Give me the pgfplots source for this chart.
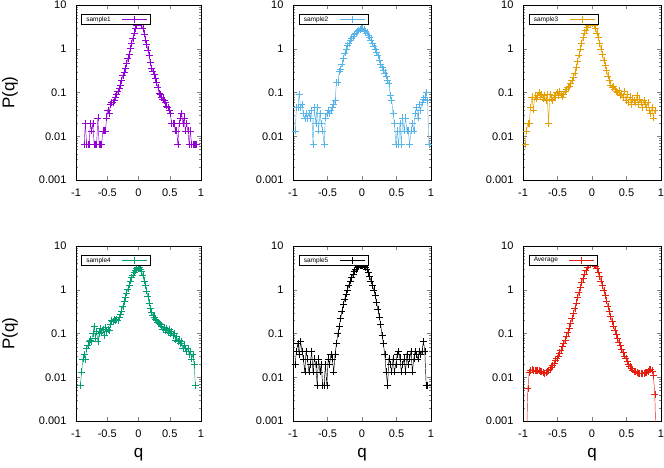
\documentclass[border=0pt]{standalone}
\usepackage{fontspec}
\setmainfont{Liberation Sans}
\usepackage{pgfplots}
\pgfplotsset{compat=1.18}
\definecolor{c1}{HTML}{9400D3}
\definecolor{c2}{HTML}{56B4E9}
\definecolor{c3}{HTML}{E69F00}
\definecolor{c4}{HTML}{009E73}
\definecolor{c5}{HTML}{000000}
\definecolor{c6}{HTML}{E51E10}
\pgfplotsset{
  legend image code/.code={\draw[mark repeat=2,mark phase=2,#1] plot coordinates {(0pt,0pt) (12.5pt,0pt) (25pt,0pt)};},
  every axis/.append style={
    scale only axis,
    xmin=-1, xmax=1, ymin=0.001, ymax=10, height=175pt,
    xtick={-1,-0.5,0,0.5,1}, xticklabels={-1,-0.5,0,0.5,1},
    ytick={0.001,0.01,0.1,1,10}, yticklabels={0.001,0.01,0.1,1,10},
    minor ytick={0.002,0.003,0.004,0.005,0.006,0.007,0.008,0.009,0.02,0.03,0.04,0.05,0.06,0.07,0.08,0.09,0.2,0.3,0.4,0.5,0.6,0.7,0.8,0.9,2,3,4,5,6,7,8,9},
    tick align=inside,
    major tick length=4pt, minor tick length=2pt,
    axis line style={line width=0.8pt},
    ticklabel style={font=\fontsize{11}{11}\selectfont},
    xticklabel style={yshift=-5pt},
    yticklabel style={xshift=-6pt},
    legend style={at={(axis cs:-0.92,6.2)}, anchor=north west, draw=black, line width=0.5pt,
      font=\fontsize{6.5}{7}\selectfont, inner xsep=3pt, inner ysep=0pt, column sep=9pt},
    legend cell align=left, legend plot pos=right,
    ylabel style={at={(axis description cs:-0.528,0.5)}, anchor=center, font=\fontsize{17}{17}\selectfont},
    xlabel style={at={(axis description cs:0.5,-0.193)}, anchor=center, font=\fontsize{17}{17}\selectfont},
  },
  ser/.style={color=#1, draw=#1, line width=0.45pt, mark=+, mark size=3.5pt, mark options={draw=#1, line width=0.45pt}},
}
\begin{document}
\begin{tikzpicture}
\useasboundingbox (0,0) rectangle (664pt,467pt);
% ---------- sample1
\begin{semilogyaxis}[anchor=north west, at={(76pt,462pt)}, width=125pt, ylabel={P(q)}]
\addplot[ser=c1] table {
-0.87 0.0066
-0.85 0.0198
-0.83 0.0066
-0.81 0.0066
-0.79 0.0066
-0.77 0.0198
-0.75 0.0132
-0.73 0.0198
-0.71 0.0066
-0.69 0.0066
-0.67 0.0066
-0.65 0.0264
-0.63 0.0066
-0.61 0.0066
-0.59 0.0066
-0.57 0.0132
-0.55 0.0132
-0.53 0.0132
-0.51 0.0264
-0.49 0.0396
-0.47 0.033
-0.45 0.0528
-0.43 0.0594
-0.41 0.0594
-0.39 0.066
-0.37 0.079
-0.35 0.092
-0.33 0.105
-0.31 0.125
-0.29 0.15
-0.27 0.19
-0.25 0.25
-0.23 0.29
-0.21 0.36
-0.19 0.46
-0.17 0.60
-0.15 0.75
-0.13 1.02
-0.11 1.35
-0.09 1.75
-0.07 2.3
-0.05 2.9
-0.03 3.5
-0.01 4.1
0.01 4.3
0.03 4.0
0.05 3.6
0.07 2.9
0.09 2.2
0.11 1.6
0.13 1.25
0.15 0.95
0.17 0.70
0.19 0.48
0.21 0.36
0.23 0.31
0.25 0.26
0.27 0.21
0.29 0.17
0.31 0.13
0.33 0.097
0.35 0.09
0.37 0.079
0.39 0.072
0.41 0.066
0.43 0.059
0.45 0.0495
0.47 0.046
0.49 0.0396
0.51 0.033
0.53 0.0198
0.55 0.0198
0.57 0.0198
0.59 0.0132
0.61 0.0132
0.63 0.0066
0.65 0.0198
0.67 0.0264
0.69 0.033
0.71 0.0198
0.73 0.0264
0.75 0.0132
0.77 0.0198
0.79 0.0132
0.81 0.0066
0.83 0.0132
0.85 0.0066
0.87 0.0066
0.89 0.0066
0.91 0.0066
0.93 0.0066
};
\addlegendentry{sample1}
\end{semilogyaxis}
% ---------- sample2
\begin{semilogyaxis}[anchor=north west, at={(293pt,462pt)}, width=138pt]
\addplot[ser=c2] table {
-0.97 0.0132
-0.95 0.046
-0.93 0.046
-0.91 0.092
-0.89 0.046
-0.87 0.053
-0.85 0.033
-0.83 0.026
-0.81 0.033
-0.79 0.026
-0.77 0.033
-0.75 0.026
-0.73 0.0396
-0.71 0.0066
-0.69 0.046
-0.67 0.0198
-0.65 0.046
-0.63 0.0132
-0.61 0.033
-0.59 0.0198
-0.57 0.0132
-0.55 0.0066
-0.53 0.0264
-0.51 0.033
-0.49 0.0396
-0.47 0.033
-0.45 0.0396
-0.43 0.046
-0.41 0.053
-0.39 0.066
-0.37 0.17
-0.35 0.17
-0.33 0.30
-0.31 0.34
-0.29 0.45
-0.27 0.60
-0.25 0.80
-0.23 0.98
-0.21 1.2
-0.19 1.35
-0.17 1.55
-0.15 1.75
-0.13 1.95
-0.11 2.1
-0.09 2.3
-0.07 2.5
-0.05 2.6
-0.03 2.75
-0.01 2.9
0.01 2.85
0.03 2.7
0.05 2.5
0.07 2.3
0.09 2.05
0.11 1.8
0.13 1.6
0.15 1.35
0.17 1.15
0.19 1.0
0.21 0.85
0.23 0.70
0.25 0.56
0.27 0.45
0.29 0.38
0.31 0.33
0.33 0.28
0.35 0.24
0.37 0.19
0.39 0.16
0.41 0.086
0.43 0.066
0.45 0.033
0.47 0.0198
0.49 0.0066
0.51 0.0132
0.53 0.0066
0.55 0.0198
0.57 0.0066
0.59 0.0264
0.61 0.0132
0.63 0.0264
0.65 0.0132
0.67 0.0132
0.69 0.0066
0.71 0.0132
0.73 0.0198
0.75 0.0132
0.77 0.033
0.79 0.046
0.81 0.0264
0.83 0.053
0.85 0.0396
0.87 0.059
0.89 0.072
0.91 0.079
0.93 0.099
0.95 0.066
0.97 0.0066
};
\addlegendentry{sample2}
\end{semilogyaxis}
% ---------- sample3
\begin{semilogyaxis}[anchor=north west, at={(523pt,462pt)}, width=138pt]
\addplot[ser=c3] table {
-0.97 0.0066
-0.95 0.0132
-0.93 0.0198
-0.91 0.0198
-0.89 0.046
-0.87 0.079
-0.85 0.04
-0.83 0.079
-0.81 0.072
-0.79 0.086
-0.77 0.099
-0.75 0.079
-0.73 0.092
-0.71 0.072
-0.69 0.086
-0.67 0.066
-0.65 0.092
-0.63 0.0198
-0.61 0.092
-0.59 0.072
-0.57 0.066
-0.55 0.086
-0.53 0.079
-0.51 0.099
-0.49 0.086
-0.47 0.105
-0.45 0.092
-0.43 0.079
-0.41 0.092
-0.39 0.105
-0.37 0.12
-0.35 0.13
-0.33 0.14
-0.31 0.16
-0.29 0.19
-0.27 0.22
-0.25 0.28
-0.23 0.38
-0.21 0.52
-0.19 0.72
-0.17 1.0
-0.15 1.35
-0.13 1.8
-0.11 2.3
-0.09 2.7
-0.07 3.1
-0.05 3.5
-0.03 3.8
-0.01 3.9
0.01 3.8
0.03 3.5
0.05 2.9
0.07 2.3
0.09 1.8
0.11 1.35
0.13 1.0
0.15 0.75
0.17 0.55
0.19 0.42
0.21 0.32
0.23 0.24
0.25 0.19
0.27 0.15
0.29 0.13
0.31 0.14
0.33 0.12
0.35 0.105
0.37 0.099
0.39 0.11
0.41 0.086
0.43 0.092
0.45 0.079
0.47 0.105
0.49 0.066
0.51 0.092
0.53 0.059
0.55 0.079
0.57 0.053
0.59 0.072
0.61 0.066
0.63 0.059
0.65 0.086
0.67 0.053
0.69 0.072
0.71 0.059
0.73 0.046
0.75 0.066
0.77 0.053
0.79 0.046
0.81 0.059
0.83 0.0396
0.85 0.033
0.87 0.046
0.89 0.0264
0.91 0.0396
};
\addlegendentry{sample3}
\end{semilogyaxis}
% ---------- sample4
\begin{semilogyaxis}[anchor=north west, at={(76pt,221pt)}, width=125pt, ylabel={P(q)}, xlabel={q}]
\addplot[ser=c4] table {
-0.93 0.0066
-0.91 0.0132
-0.89 0.0264
-0.87 0.0330
-0.85 0.026
-0.83 0.046
-0.81 0.053
-0.79 0.066
-0.77 0.072
-0.75 0.066
-0.73 0.099
-0.71 0.145
-0.69 0.079
-0.67 0.112
-0.65 0.066
-0.63 0.099
-0.61 0.132
-0.59 0.105
-0.57 0.125
-0.55 0.092
-0.53 0.138
-0.51 0.112
-0.49 0.125
-0.47 0.118
-0.45 0.16
-0.43 0.2
-0.41 0.19
-0.39 0.21
-0.37 0.2
-0.35 0.21
-0.33 0.2
-0.31 0.23
-0.29 0.27
-0.27 0.33
-0.25 0.42
-0.23 0.55
-0.21 0.68
-0.19 0.85
-0.17 1.05
-0.15 1.3
-0.13 1.6
-0.11 1.9
-0.09 2.2
-0.07 2.5
-0.05 2.8
-0.03 3.1
-0.01 3.3
0.01 3.2
0.03 3.0
0.05 2.6
0.07 2.1
0.09 1.6
0.11 1.25
0.13 0.95
0.15 0.7
0.17 0.5
0.19 0.38
0.21 0.3
0.23 0.26
0.25 0.24
0.27 0.21
0.29 0.2
0.31 0.18
0.33 0.17
0.35 0.16
0.37 0.15
0.39 0.125
0.41 0.14
0.43 0.118
0.45 0.132
0.47 0.105
0.49 0.125
0.51 0.099
0.53 0.112
0.55 0.092
0.57 0.099
0.59 0.072
0.61 0.086
0.63 0.066
0.65 0.072
0.67 0.059
0.69 0.066
0.71 0.046
0.73 0.053
0.75 0.046
0.77 0.0396
0.79 0.046
0.81 0.033
0.83 0.0396
0.85 0.0264
0.87 0.033
0.89 0.0198
0.91 0.0066
};
\addlegendentry{sample4}
\end{semilogyaxis}
% ---------- sample5
\begin{semilogyaxis}[anchor=north west, at={(293pt,221pt)}, width=138pt, xlabel={q}]
\addplot[ser=c5] table {
-0.97 0.0198
-0.95 0.0396
-0.93 0.059
-0.91 0.033
-0.89 0.066
-0.87 0.0396
-0.85 0.0264
-0.83 0.0132
-0.81 0.0396
-0.79 0.0264
-0.77 0.0132
-0.75 0.0198
-0.73 0.0396
-0.71 0.0132
-0.69 0.0264
-0.67 0.0198
-0.65 0.0066
-0.63 0.0264
-0.61 0.0132
-0.59 0.0198
-0.57 0.0066
-0.55 0.0066
-0.53 0.0198
-0.51 0.0066
-0.49 0.0264
-0.47 0.0198
-0.45 0.033
-0.43 0.0264
-0.41 0.0132
-0.39 0.033
-0.37 0.059
-0.35 0.099
-0.33 0.145
-0.31 0.22
-0.29 0.33
-0.27 0.46
-0.25 0.62
-0.23 0.80
-0.21 1.0
-0.19 1.3
-0.17 1.6
-0.15 1.95
-0.13 2.3
-0.11 2.6
-0.09 2.9
-0.07 3.2
-0.05 3.4
-0.03 3.5
-0.01 3.6
0.01 3.5
0.03 3.4
0.05 3.2
0.07 2.9
0.09 2.5
0.11 2.0
0.13 1.6
0.15 1.25
0.17 1.0
0.19 0.75
0.21 0.52
0.23 0.36
0.25 0.24
0.27 0.16
0.29 0.092
0.31 0.059
0.33 0.033
0.35 0.0132
0.37 0.0066
0.39 0.0264
0.41 0.0198
0.43 0.0132
0.45 0.0264
0.47 0.0132
0.49 0.0198
0.51 0.033
0.53 0.0396
0.55 0.0264
0.57 0.0132
0.59 0.0198
0.61 0.0264
0.63 0.0132
0.65 0.033
0.67 0.0198
0.69 0.0264
0.71 0.0396
0.73 0.0132
0.75 0.0264
0.77 0.0396
0.79 0.033
0.81 0.0264
0.83 0.0396
0.85 0.033
0.87 0.0396
0.89 0.066
0.91 0.0396
0.93 0.0066
0.95 0.0066
};
\addlegendentry{sample5}
\end{semilogyaxis}
% ---------- Average
\begin{semilogyaxis}[anchor=north west, at={(523pt,221pt)}, width=138pt, xlabel={q}]
\addplot[ser=c6] table {
-0.95 0.0003
-0.93 0.0055
-0.91 0.0128
-0.89 0.0145
-0.87 0.0148
-0.85 0.0145
-0.83 0.0143
-0.81 0.0142
-0.79 0.0140
-0.77 0.0141
-0.75 0.0138
-0.73 0.0132
-0.71 0.0128
-0.69 0.0125
-0.67 0.0126
-0.65 0.0133
-0.63 0.0142
-0.61 0.0155
-0.59 0.017
-0.57 0.019
-0.55 0.021
-0.53 0.024
-0.51 0.027
-0.49 0.031
-0.47 0.036
-0.45 0.042
-0.43 0.050
-0.41 0.060
-0.39 0.072
-0.37 0.088
-0.35 0.108
-0.33 0.135
-0.31 0.17
-0.29 0.22
-0.27 0.29
-0.25 0.38
-0.23 0.50
-0.21 0.66
-0.19 0.87
-0.17 1.12
-0.15 1.45
-0.13 1.85
-0.11 2.3
-0.09 2.8
-0.07 3.25
-0.05 3.65
-0.03 3.95
-0.01 4.1
0.01 4.05
0.03 3.85
0.05 3.5
0.07 3.05
0.09 2.55
0.11 2.05
0.13 1.6
0.15 1.25
0.17 0.97
0.19 0.74
0.21 0.56
0.23 0.42
0.25 0.32
0.27 0.245
0.29 0.19
0.31 0.15
0.33 0.12
0.35 0.097
0.37 0.078
0.39 0.064
0.41 0.053
0.43 0.044
0.45 0.037
0.47 0.031
0.49 0.027
0.51 0.023
0.53 0.020
0.55 0.0178
0.57 0.016
0.59 0.0148
0.61 0.0138
0.63 0.0132
0.65 0.0128
0.67 0.0125
0.69 0.0124
0.71 0.0123
0.73 0.0124
0.75 0.0125
0.77 0.0126
0.79 0.013
0.81 0.0138
0.83 0.0148
0.85 0.0152
0.87 0.0140
0.89 0.0110
0.91 0.0040
0.93 0.0003
};
\addlegendentry{Average}
\end{semilogyaxis}
\end{tikzpicture}
\end{document}
